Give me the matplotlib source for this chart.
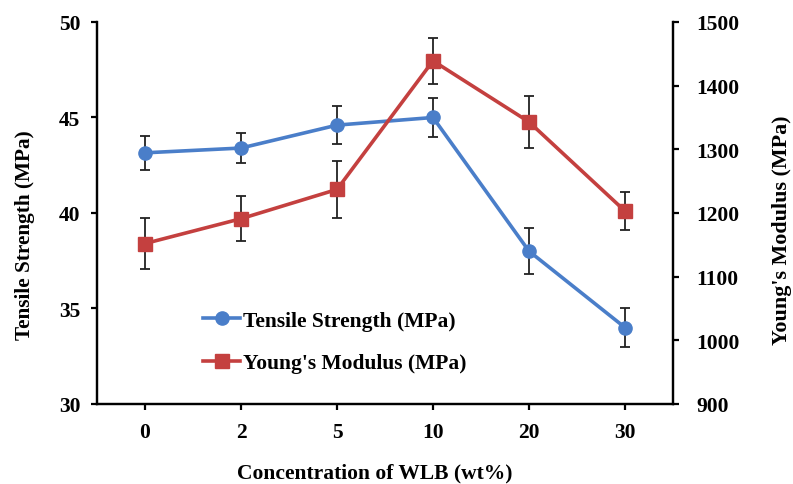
import matplotlib
matplotlib.use("Agg")
import matplotlib.pyplot as plt
import numpy as np
from matplotlib.lines import Line2D

plt.rcParams["font.family"] = ["Liberation Serif", "DejaVu Serif"]
plt.rcParams["font.weight"] = "bold"

# data
concentration = ["0", "2", "5", "10", "20", "30"]
tensile = [43.15, 43.4, 44.6, 45.0, 38.0, 34.0]
tensile_err = [0.9, 0.8, 1.0, 1.0, 1.2, 1.0]
modulus = [1152, 1191, 1237, 1439, 1343, 1203]
modulus_err = [40, 35, 45, 36, 41, 30]

BLUE = "#4a7ec9"
RED = "#c4403f"

fig = plt.figure(figsize=(7.93, 4.85), dpi=100)
ax = fig.add_axes([0.1223, 0.165, 0.7264, 0.7876])
ax2 = ax.twinx()

x = np.arange(len(concentration))

ax.errorbar(x, tensile, yerr=tensile_err, color=BLUE, lw=2.6, marker="o", ms=9.5,
            ecolor="#222222", elinewidth=1.3, capsize=3.5, capthick=1.3, zorder=3)
ax2.errorbar(x, modulus, yerr=modulus_err, color=RED, lw=2.6, marker="s", ms=9.5,
             ecolor="#222222", elinewidth=1.3, capsize=3.5, capthick=1.3, zorder=3)

ax.set_xlim(-0.5, 5.5)
ax.set_ylim(30, 50)
ax.set_yticks([30, 35, 40, 45, 50])
ax2.set_ylim(900, 1500)
ax2.set_yticks(range(900, 1501, 100))
ax.set_xticks(x)
ax.set_xticklabels(concentration)

for a in (ax, ax2):
    a.spines["top"].set_visible(False)
    for s in a.spines.values():
        s.set_linewidth(1.6)
    a.tick_params(direction="out", length=4, width=1.6, labelsize=15.5)
ax.tick_params(axis="x", pad=9)
ax.tick_params(axis="y", pad=8)
ax2.tick_params(axis="y", pad=13)

ax.set_xlabel("Concentration of WLB (wt%)", fontsize=15.5, fontweight="bold")
ax.set_ylabel("Tensile Strength (MPa)", fontsize=15.3, fontweight="bold")
ax2.set_ylabel("Young's Modulus (MPa)", fontsize=15.8, fontweight="bold")
ax.xaxis.set_label_coords(0.482, -0.153)
ax.yaxis.set_label_coords(-0.107, 0.445)
ax2.yaxis.set_label_coords(1.172, 0.458)

handles = [
    Line2D([], [], color=BLUE, lw=2.6, marker="o", ms=9.5),
    Line2D([], [], color=RED, lw=2.6, marker="s", ms=9.5),
]
labels = ["Tensile Strength (MPa)", "Young's Modulus (MPa)"]
ax.legend(handles, labels, loc="upper left", bbox_to_anchor=(0.15, 0.295),
          frameon=False, fontsize=15.5, handlelength=1.75, handletextpad=0.1,
          labelspacing=1.05)

fig.savefig("out.png", dpi=100)
